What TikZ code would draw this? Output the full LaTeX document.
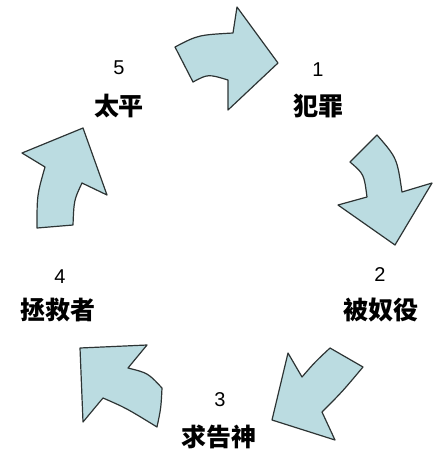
\documentclass[tikz,border=0pt]{standalone}
\usepackage{fontspec}
\setmainfont{Liberation Sans}
\newfontfamily\cjk{Noto Sans CJK SC}
\usepackage{tikz}
\definecolor{celeste}{RGB}{187,220,225}
\definecolor{borde}{RGB}{45,52,52}

\begin{document}
\begin{tikzpicture}[x=1pt,y=-1pt,
    flecha/.style={fill=celeste, draw=borde, line width=1.2pt, line join=round},
    numero/.style={inner sep=0pt, font=\fontsize{20}{20}\selectfont},
    nombre/.style={inner sep=0pt, font=\cjk\bfseries\fontsize{25}{25}\selectfont}]
  \useasboundingbox (0,0) rectangle (438,451);
  % flechas
  \draw[flecha] (175,47) .. controls (198,35) .. (233,33) -- (237,7) -- (278,63)
    -- (228,110) -- (228,80) .. controls (208,74) .. (193,82) -- cycle;
  \draw[flecha] (350,162) -- (377,135) .. controls (397,158) .. (402,192) -- (432,183)
    -- (395,245) -- (338,205) -- (367,197) .. controls (364,174) .. cycle;
  \draw[flecha] (330,348) -- (363,367) .. controls (342,392) .. (322,412) -- (335,440)
    -- (272,420) -- (288,353) -- (302,377) .. controls (315,362) .. cycle;
  \draw[flecha] (80,348) -- (147,345) -- (128,368) .. controls (148,373) .. (162,388)
    .. controls (161,408) .. (157,427) .. controls (126,408) .. (103,398) -- (83,422) -- cycle;
  \draw[flecha] (37,228) -- (73,225) .. controls (74,200) .. (82,183) -- (107,195)
    -- (83,128) -- (22,153) -- (45,167) .. controls (37,195) .. cycle;
  % etiquetas
  \node[numero] (n1) at (318,70)  {1};
  \node[nombre] (t1) at (318,106) {犯罪};
  \node[numero] (n2) at (380,275) {2};
  \node[nombre] (t2) at (381,310) {被奴役};
  \node[numero] (n3) at (220,400) {3};
  \node[nombre] (t3) at (219,437) {求告神};
  \node[numero] (n4) at (60,277)  {4};
  \node[nombre] (t4) at (58,310)  {拯救者};
  \node[numero] (n5) at (119,68)  {5};
  \node[nombre] (t5) at (119,106) {太平};
\end{tikzpicture}
\end{document}
